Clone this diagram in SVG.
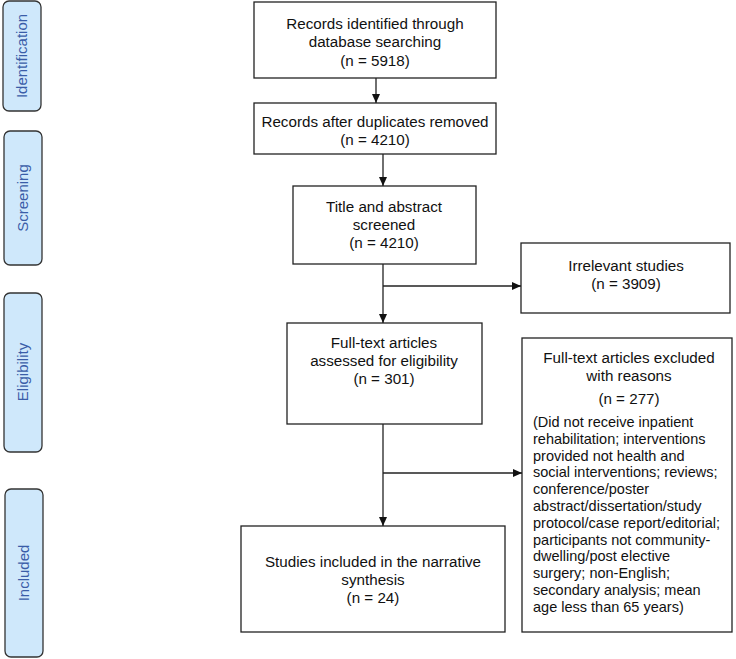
<svg xmlns="http://www.w3.org/2000/svg" width="736" height="659" viewBox="0 0 736 659">
<style>
.phase{fill:#cfe8fb;stroke:#333;stroke-width:1.3}
.pt{font-family:"Liberation Sans",Arial,sans-serif;font-size:15px;fill:#3a5da8;text-anchor:middle}
.box{fill:#fff;stroke:#222;stroke-width:1.3}
.t{font-family:"Liberation Sans",Arial,sans-serif;font-size:15.2px;fill:#111;text-anchor:middle}
.tl{font-family:"Liberation Sans",Arial,sans-serif;font-size:14.5px;fill:#111}
.c{fill:none;stroke:#222;stroke-width:1.3}
</style>
<defs>
<marker id="ah" markerWidth="10" markerHeight="10" refX="9" refY="5" orient="auto" markerUnits="userSpaceOnUse">
<path d="M0,1 L9,5 L0,9 Z" fill="#111"/>
</marker>
</defs>
<rect width="736" height="659" fill="#fff"/>
<g id="phase-identification"><rect class="phase" x="3" y="1" width="38" height="110" rx="6"/><text class="pt" transform="translate(27,56) rotate(-90)">Identification</text></g>
<g id="phase-screening"><rect class="phase" x="4" y="131" width="38" height="134" rx="6"/><text class="pt" transform="translate(28,198) rotate(-90)">Screening</text></g>
<g id="phase-eligibility"><rect class="phase" x="4" y="293" width="38" height="159" rx="6"/><text class="pt" transform="translate(28,372) rotate(-90)">Eligibility</text></g>
<g id="phase-included"><rect class="phase" x="5" y="489" width="38" height="168" rx="6"/><text class="pt" transform="translate(29,573) rotate(-90)">Included</text></g>

<g id="n1"><rect class="box" x="254" y="2" width="242" height="76"/>
<text class="t" x="375" y="29">Records identified through</text>
<text class="t" x="375" y="47">database searching</text>
<text class="t" x="375" y="66">(n = 5918)</text></g>
<g id="n2"><rect class="box" x="254" y="103" width="242" height="51"/>
<text class="t" x="375" y="127">Records after duplicates removed</text>
<text class="t" x="375" y="145">(n = 4210)</text></g>
<g id="n3"><rect class="box" x="293" y="186" width="183" height="78"/>
<text class="t" x="384" y="212">Title and abstract</text>
<text class="t" x="384" y="230">screened</text>
<text class="t" x="384" y="248">(n = 4210)</text></g>
<g id="n4"><rect class="box" x="521" y="243" width="209" height="70"/>
<text class="t" x="626" y="271">Irrelevant studies</text>
<text class="t" x="626" y="289">(n = 3909)</text></g>
<g id="n5"><rect class="box" x="287" y="323" width="195" height="101"/>
<text class="t" x="384" y="348">Full-text articles</text>
<text class="t" x="384" y="366">assessed for eligibility</text>
<text class="t" x="384" y="384">(n = 301)</text></g>
<g id="n6"><rect class="box" x="522" y="338" width="210" height="294"/>
<text class="t" x="629" y="363">Full-text articles excluded</text>
<text class="t" x="629" y="381">with reasons</text>
<text class="t" x="629" y="404">(n = 277)</text>
<text class="tl" x="533" y="427">(Did not receive inpatient</text>
<text class="tl" x="533" y="443.8">rehabilitation; interventions</text>
<text class="tl" x="533" y="460.6">provided not health and</text>
<text class="tl" x="533" y="477.4">social interventions; reviews;</text>
<text class="tl" x="533" y="494.2">conference/poster</text>
<text class="tl" x="533" y="511">abstract/dissertation/study</text>
<text class="tl" x="533" y="527.8">protocol/case report/editorial;</text>
<text class="tl" x="533" y="544.6">participants not community-</text>
<text class="tl" x="533" y="561.4">dwelling/post elective</text>
<text class="tl" x="533" y="578.2">surgery; non-English;</text>
<text class="tl" x="533" y="595">secondary analysis; mean</text>
<text class="tl" x="533" y="611.8">age less than 65 years)</text></g>
<g id="n7"><rect class="box" x="241" y="526" width="264" height="106"/>
<text class="t" x="373" y="567">Studies included in the narrative</text>
<text class="t" x="373" y="585">synthesis</text>
<text class="t" x="373" y="603">(n = 24)</text></g>

<g id="connectors">
<line class="c" x1="376" y1="78" x2="376" y2="103" marker-end="url(#ah)"/>
<line class="c" x1="383" y1="154" x2="383" y2="186" marker-end="url(#ah)"/>
<line class="c" x1="383" y1="264" x2="383" y2="323" marker-end="url(#ah)" stroke="#777"/>
<line class="c" x1="383" y1="286" x2="521" y2="286" marker-end="url(#ah)"/>
<line class="c" x1="383" y1="424" x2="383" y2="526" marker-end="url(#ah)" stroke-width="1.6"/>
<line class="c" x1="383" y1="473" x2="522" y2="473" marker-end="url(#ah)"/>
</g>
</svg>
